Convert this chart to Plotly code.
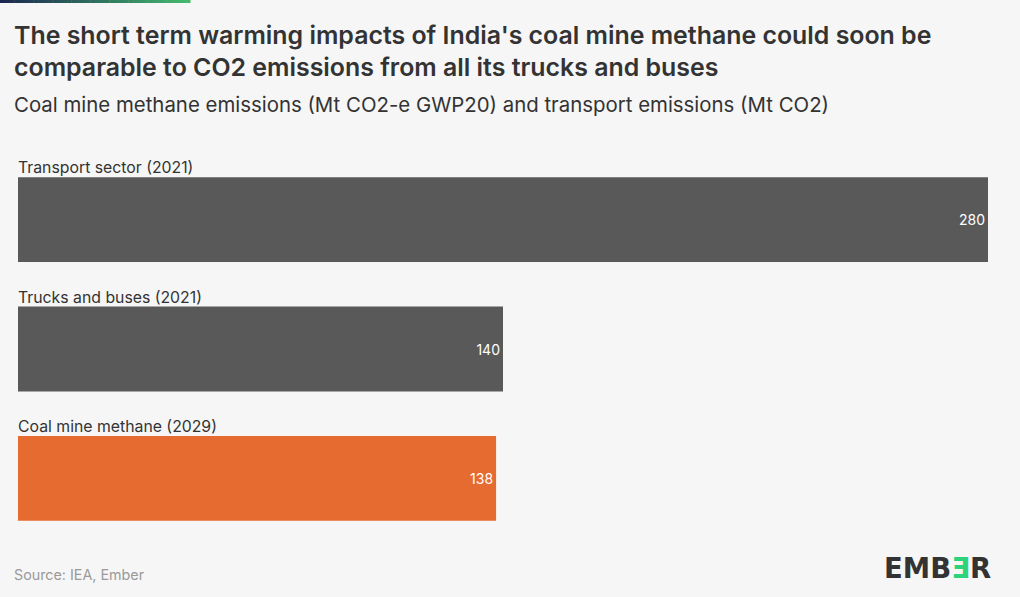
import plotly.graph_objects as go

categories = ["Transport sector (2021)", "Trucks and buses (2021)", "Coal mine methane (2029)"]
values = [280, 140, 138]
colors = ["#595959", "#595959", "#e66b30"]

title = ("The short term warming impacts of India's coal mine methane could soon be<br>"
         "comparable to CO2 emissions from all its trucks and buses")
subtitle = "Coal mine methane emissions (Mt CO2-e GWP20) and transport emissions (Mt CO2)"
source = "Source: IEA, Ember"

FONT = "Inter, Lato, sans-serif"
W, H = 1020, 597
ML, MR, MT, MB = 18, 32, 155, 54
PH = H - MT - MB

def py(pix):
    return (H - MB - pix) / PH

def px(pix):
    return (pix - ML) / (W - ML - MR)

ypos = list(range(len(categories)))
bargap = 0.344
half = (1 - bargap) / 2

fig = go.Figure()
fig.add_trace(go.Bar(
    x=values, y=ypos, orientation="h",
    marker=dict(color=colors, line=dict(width=0)),
    text=[str(v) for v in values], textposition="inside",
    insidetextanchor="end", textangle=0,
    textfont=dict(color="white", size=14, family=FONT),
    hoverinfo="skip",
))

annotations = []
for i, c in enumerate(categories):
    annotations.append(dict(x=0, y=i - half, xref="x", yref="y", text=c,
                            showarrow=False, xanchor="left", yanchor="bottom",
                            yshift=-2, xshift=-2,
                            font=dict(size=15.8, color="#333333", family=FONT)))

annotations.append(dict(x=px(12), y=py(17.5), xref="paper", yref="paper", text=title,
                        showarrow=False, xanchor="left", yanchor="top", align="left",
                        font=dict(size=24.9, color="#333333", family=FONT, weight=600)))
annotations.append(dict(x=px(12), y=py(104), xref="paper", yref="paper", text=subtitle,
                        showarrow=False, xanchor="left", yanchor="middle", align="left",
                        font=dict(size=20.4, color="#333333", family=FONT)))
annotations.append(dict(x=px(12), y=py(574), xref="paper", yref="paper", text=source,
                        showarrow=False, xanchor="left", yanchor="middle",
                        font=dict(size=14.3, color="#9a9a9a", family=FONT)))
annotations.append(dict(x=px(993), y=py(568), xref="paper", yref="paper",
                        text="<b>EMB<span style='color:#2bd47b'>\u018e</span>R</b>",
                        showarrow=False, xanchor="right", yanchor="middle",
                        font=dict(size=27.5, color="#333333", family="DejaVu Sans, sans-serif")))

shapes = []
n = 40
c0 = (28, 40, 80)
c1 = (68, 185, 110)
for k in range(n):
    t = k / (n - 1)
    col = tuple(int(c0[j] + (c1[j] - c0[j]) * t) for j in range(3))
    shapes.append(dict(type="rect", xref="paper", yref="paper",
                       x0=px(190 * k / n), x1=px(190 * (k + 1) / n + 0.5),
                       y0=py(3), y1=py(0), line=dict(width=0),
                       fillcolor="rgb(%d,%d,%d)" % col, layer="above"))

fig.update_layout(
    width=W, height=H,
    margin=dict(l=ML, r=MR, t=MT, b=MB),
    paper_bgcolor="#f6f6f6", plot_bgcolor="#f6f6f6",
    showlegend=False, bargap=bargap,
    xaxis=dict(range=[0, 280], visible=False, fixedrange=True),
    yaxis=dict(range=[len(categories) - 0.5, -0.5], visible=False, fixedrange=True),
    annotations=annotations, shapes=shapes,
    font=dict(family=FONT),
)

fig.write_html("out.html", config={"displayModeBar": False},
               post_script="document.body.style.margin='0';document.body.style.overflow='hidden';")
